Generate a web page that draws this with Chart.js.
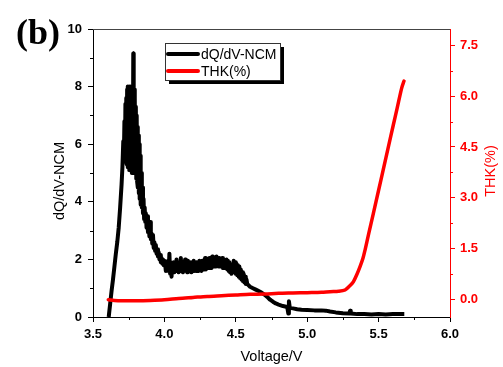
<!DOCTYPE html>
<html>
<head>
<meta charset="utf-8">
<script src="https://cdn.jsdelivr.net/npm/chart.js@4"></script>
<style>
  html, body { margin: 0; padding: 0; background: #fff; }
  #wrap { width: 503px; height: 367px; }
</style>
</head>
<body>
<div id="wrap"><canvas id="chart" width="503" height="367"></canvas></div>
<script>
// dQ/dV curve (black, left axis)
const voltageNcm = [
  3.610, 3.620, 3.630, 3.640, 3.650, 3.660, 3.670, 3.680, 3.690, 3.700,
  3.706, 3.712, 3.716, 3.720, 3.724, 3.727, 3.730, 3.733, 3.736, 3.739,
  3.742, 3.745, 3.748, 3.751, 3.754, 3.757, 3.760, 3.763, 3.766, 3.769,
  3.772, 3.776, 3.779, 3.782, 3.785, 3.788, 3.791, 3.794, 3.797, 3.800,
  3.803, 3.806, 3.809, 3.812, 3.815, 3.818, 3.821, 3.824, 3.827, 3.830,
  3.834, 3.838, 3.842, 3.846, 3.850, 3.854, 3.858, 3.862, 3.866, 3.870,
  3.875, 3.880, 3.885, 3.890, 3.895, 3.900, 3.905, 3.910, 3.915, 3.920,
  3.925, 3.930, 3.935, 3.940, 3.945, 3.950, 3.955, 3.960, 3.965, 3.970,
  3.975, 3.980, 3.985, 3.990, 3.995, 4.000,
  4.005, 4.010, 4.015, 4.020, 4.025, 4.030, 4.035, 4.040, 4.045, 4.050,
  4.055, 4.060, 4.065, 4.070, 4.075, 4.080, 4.085, 4.090, 4.095, 4.100,
  4.105, 4.110, 4.115, 4.120, 4.125, 4.130, 4.135, 4.140, 4.145, 4.150,
  4.155, 4.160, 4.165, 4.170, 4.175, 4.180, 4.185, 4.190, 4.195, 4.200,
  4.205, 4.210, 4.215, 4.220, 4.225, 4.230, 4.235, 4.240, 4.245, 4.250,
  4.255, 4.260, 4.265, 4.270, 4.275, 4.280, 4.285, 4.290, 4.295, 4.300,
  4.305, 4.310, 4.315, 4.320, 4.325, 4.330, 4.335, 4.340, 4.345, 4.350,
  4.355, 4.360, 4.365, 4.370, 4.375, 4.380, 4.385, 4.390, 4.395, 4.400,
  4.405, 4.410, 4.415, 4.420, 4.425, 4.430, 4.435, 4.440, 4.445, 4.450,
  4.455, 4.460, 4.465, 4.470, 4.475, 4.480, 4.485, 4.490, 4.495, 4.500,
  4.505, 4.510, 4.515, 4.520, 4.525, 4.530, 4.535, 4.540, 4.545, 4.550,
  4.555, 4.560, 4.565, 4.570, 4.575, 4.580, 4.590, 4.600, 4.620, 4.640,
  4.660, 4.680, 4.700, 4.720, 4.740, 4.760, 4.780, 4.800, 4.830, 4.860,
  4.868, 4.872, 4.878, 4.900, 4.930, 4.960, 5.000, 5.050, 5.100, 5.130,
  5.160, 5.200, 5.250, 5.295, 5.300, 5.305, 5.350, 5.400, 5.450, 5.500,
  5.550, 5.600, 5.650, 5.680
];
const dqdvNcm = [
  0.00, 0.45, 0.90, 1.30, 1.75, 2.20, 2.60, 3.10, 3.80, 4.60,
  5.20, 6.10, 5.50, 6.80, 5.60, 7.40, 5.40, 7.60, 5.30, 7.90,
  5.20, 8.00, 5.30, 7.80, 5.10, 8.00, 5.20, 7.70, 5.10, 8.00,
  5.00, 7.60, 5.20, 9.15, 5.20, 7.90, 5.00, 7.60, 5.00, 7.30,
  4.80, 7.00, 4.70, 6.60, 4.50, 6.30, 4.30, 6.00, 4.10, 5.60,
  3.90, 5.00, 3.80, 4.50, 3.60, 4.10, 3.40, 3.80, 3.30, 3.60,
  3.10, 3.50, 2.95, 3.20, 2.80, 3.30, 2.70, 2.90, 2.55, 2.85,
  2.40, 2.60, 2.30, 2.50, 2.20, 2.35, 2.10, 2.25, 2.00, 2.15,
  1.90, 2.05, 1.85, 2.00, 1.80, 1.95,
  1.85, 1.60, 1.90, 1.65, 1.95, 1.60, 2.20, 1.50, 1.90, 1.40,
  1.85, 1.60, 1.90, 1.55, 1.85, 1.60, 2.00, 1.60, 1.85, 1.55,
  1.90, 1.60, 2.05, 1.60, 1.85, 1.55, 1.90, 1.60, 2.00, 1.60,
  1.85, 1.55, 1.95, 1.60, 1.85, 1.60, 1.90, 1.55, 1.85, 1.60,
  1.95, 1.60, 1.85, 1.60, 1.90, 1.60, 1.85, 1.60, 1.95, 1.65,
  1.90, 1.60, 1.95, 1.65, 1.90, 1.65, 2.05, 1.65, 1.95, 1.70,
  2.00, 1.70, 2.05, 1.70, 1.95, 1.70, 2.10, 1.75, 2.00, 1.75,
  2.05, 1.75, 2.10, 1.80, 2.00, 1.75, 2.05, 1.75, 2.00, 1.75,
  2.05, 1.70, 2.00, 1.70, 1.95, 1.70, 2.00, 1.65, 1.95, 1.60,
  1.90, 1.55, 1.80, 1.50, 1.75, 1.60, 1.95, 1.55, 1.90, 1.50,
  1.85, 1.45, 1.80, 1.40, 1.75, 1.35, 1.65, 1.30, 1.55, 1.25,
  1.50, 1.20, 1.40, 1.15, 1.30, 1.15, 1.10, 1.05, 1.00, 0.95,
  0.90, 0.85, 0.78, 0.70, 0.60, 0.53, 0.47, 0.43, 0.38, 0.35,
  0.12, 0.55, 0.32, 0.30, 0.27, 0.25, 0.24, 0.23, 0.23, 0.22,
  0.19, 0.16, 0.13, 0.12, 0.22, 0.12, 0.10, 0.10, 0.09, 0.10,
  0.09, 0.10, 0.10, 0.10
];

// THK curve (red, right axis)
const voltageThk = [
  3.607, 3.650, 3.700, 3.800, 3.900, 4.000, 4.100, 4.200, 4.300, 4.400,
  4.500, 4.600, 4.700, 4.800, 4.900, 5.000, 5.100, 5.160, 5.220, 5.265,
  5.300, 5.323, 5.350, 5.370, 5.390, 5.405, 5.430, 5.463, 5.500, 5.533,
  5.570, 5.603, 5.630, 5.662, 5.678
];
const thk = [
  -0.02, -0.04, -0.05, -0.05, -0.04, -0.02, 0.02, 0.05, 0.08, 0.10,
  0.12, 0.14, 0.15, 0.17, 0.18, 0.19, 0.20, 0.22, 0.23, 0.27,
  0.40, 0.51, 0.75, 0.96, 1.20, 1.45, 1.92, 2.53, 3.22, 3.84,
  4.53, 5.15, 5.65, 6.25, 6.45
];

const xTicks = [3.5, 4.0, 4.5, 5.0, 5.5, 6.0];
const leftTicks = [0, 2, 4, 6, 8, 10];
const rightTicks = [0, 1.5, 3.0, 4.5, 6.0, 7.5];

const seriesNames = ["dQ/dV-NCM", "THK(%)"];
const seriesColors = ["#000000", "#ff0000"];

const ncmPoints = voltageNcm.map((v, i) => ({ x: v, y: dqdvNcm[i] }));
const thkPoints = voltageThk.map((v, i) => ({ x: v, y: thk[i] }));

function fixTicks(list) {
  return scale => { scale.ticks = list.map(v => ({ value: v })); };
}

// minor ticks, titles, frame, legend and panel letter
const decor = {
  id: "decor",
  afterDraw(chart) {
    const c = chart.ctx;
    const a = chart.chartArea;
    const sx = chart.scales.x, sy = chart.scales.y, sr = chart.scales.y1;
    c.save();
    c.lineWidth = 1;
    // minor ticks
    c.strokeStyle = "#000";
    for (let v = 3.75; v < 6; v += 0.5) {
      const px = Math.round(sx.getPixelForValue(v)) + 0.5;
      c.beginPath(); c.moveTo(px, a.bottom); c.lineTo(px, a.bottom + 3); c.stroke();
    }
    for (let v = 1; v < 10; v += 2) {
      const py = Math.round(sy.getPixelForValue(v)) + 0.5;
      c.beginPath(); c.moveTo(a.left, py); c.lineTo(a.left - 3, py); c.stroke();
    }
    c.strokeStyle = "#ff0000";
    for (let v = 0.75; v < 7.9; v += 1.5) {
      const py = Math.round(sr.getPixelForValue(v)) + 0.5;
      c.beginPath(); c.moveTo(a.right, py); c.lineTo(a.right + 3, py); c.stroke();
    }
    // top frame
    c.strokeStyle = "#444";
    c.beginPath(); c.moveTo(a.left, a.top + 0.5); c.lineTo(a.right, a.top + 0.5); c.stroke();

    // axis titles
    c.fillStyle = "#000";
    c.font = "14.5px 'Liberation Sans', Arial, sans-serif";
    c.textAlign = "center";
    c.textBaseline = "middle";
    c.fillText("Voltage/V", (a.left + a.right) / 2, 357);
    c.save();
    c.translate(60, 181);
    c.rotate(-Math.PI / 2);
    c.fillText("dQ/dV-NCM", 0, 0);
    c.restore();
    c.save();
    c.fillStyle = "#ff0000";
    c.translate(491, 171);
    c.rotate(-Math.PI / 2);
    c.fillText("THK(%)", 0, 0);
    c.restore();

    // legend box with shadow
    c.fillStyle = "#000";
    c.fillRect(169, 80, 115, 4);
    c.fillRect(280, 47, 4, 37);
    c.fillStyle = "#fff";
    c.fillRect(165, 43, 115, 37);
    c.strokeStyle = "#333";
    c.strokeRect(165.5, 43.5, 115, 37);
    c.lineCap = "round";
    const rows = [54, 71];
    rows.forEach((ry, i) => {
      c.strokeStyle = seriesColors[i];
      c.lineWidth = 4;
      c.beginPath(); c.moveTo(168, ry); c.lineTo(198, ry); c.stroke();
      c.fillStyle = "#000";
      c.font = "14px 'Liberation Sans', Arial, sans-serif";
      c.textAlign = "left";
      c.fillText(seriesNames[i], 201, ry + 1);
    });

    // panel letter
    c.fillStyle = "#000";
    c.font = "bold 36px 'Liberation Serif', 'Times New Roman', serif";
    c.textAlign = "left";
    c.textBaseline = "alphabetic";
    c.fillText("(b)", 16, 44);
    c.restore();
  }
};

const tickFont = { family: "'Liberation Sans', Arial, sans-serif", size: 13, weight: "bold" };

new Chart(document.getElementById("chart"), {
  type: "line",
  data: {
    datasets: [
      {
        label: seriesNames[0],
        data: ncmPoints,
        yAxisID: "y",
        borderColor: seriesColors[0],
        borderWidth: 4,
        borderJoinStyle: "round",
        pointRadius: 0,
        tension: 0,
        order: 1
      },
      {
        label: seriesNames[1],
        data: thkPoints,
        yAxisID: "y1",
        borderColor: seriesColors[1],
        borderWidth: 3.5,
        borderJoinStyle: "round",
        borderCapStyle: "round",
        pointRadius: 0,
        tension: 0.3,
        order: 0
      }
    ]
  },
  options: {
    responsive: false,
    animation: false,
    layout: { padding: { top: 29, left: 0, right: 0, bottom: 0 } },
    plugins: { legend: { display: false }, tooltip: { enabled: false } },
    scales: {
      x: {
        type: "linear",
        min: 3.5,
        max: 6.0,
        afterBuildTicks: fixTicks(xTicks),
        afterFit: s => { s.height = 50; },
        border: { color: "#000", width: 1 },
        grid: { drawOnChartArea: false, tickLength: 5, tickColor: "#000" },
        ticks: { color: "#000", font: tickFont, padding: 5, maxRotation: 0,
          callback: v => v.toFixed(1) }
      },
      y: {
        position: "left",
        min: 0,
        max: 10,
        afterBuildTicks: fixTicks(leftTicks),
        afterFit: s => { s.width = 93; },
        border: { color: "#000", width: 1 },
        grid: { drawOnChartArea: false, tickLength: 5, tickColor: "#000" },
        ticks: { color: "#000", font: tickFont, padding: 6 }
      },
      y1: {
        position: "right",
        min: -0.53,
        max: 7.99,
        afterBuildTicks: fixTicks(rightTicks),
        afterFit: s => { s.width = 53; },
        border: { color: "#ff0000", width: 1 },
        grid: { drawOnChartArea: false, tickLength: 5, tickColor: "#ff0000" },
        ticks: { color: "#ff0000", font: tickFont, padding: 5,
          callback: v => v.toFixed(1) }
      }
    }
  },
  plugins: [decor]
});
</script>
</body>
</html>
